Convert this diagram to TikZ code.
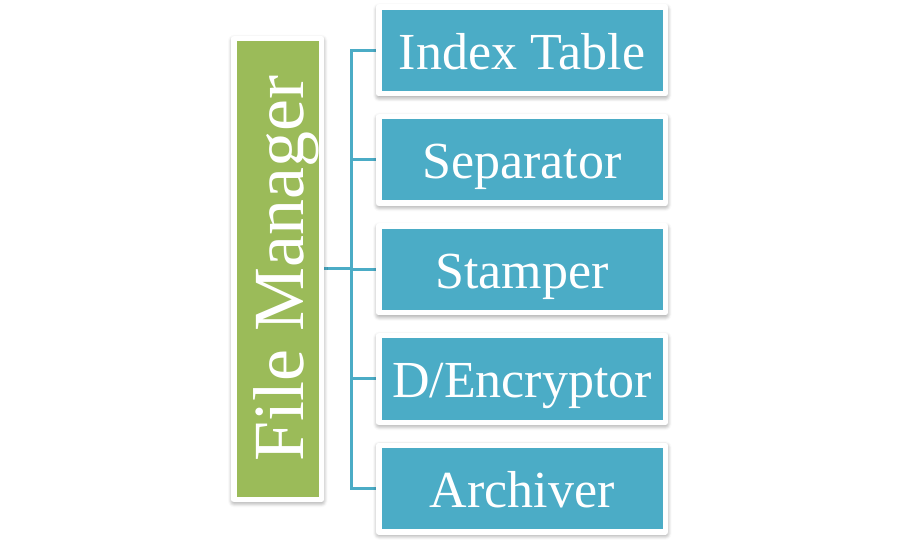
\documentclass[tikz,border=0pt]{standalone}
\usepackage{fontspec}
\usepackage{graphicx}
\setmainfont{Liberation Serif}
\usetikzlibrary{shadows.blur,backgrounds}
\definecolor{boxblue}{HTML}{4BACC6}
\definecolor{boxgreen}{HTML}{9BBB59}
\tikzset{
  framebox/.style={draw=white, line width=5.5pt, line join=round, inner sep=0pt,
    blur shadow={shadow xshift=0.3pt, shadow yshift=-2pt, shadow blur radius=6pt, shadow blur steps=8, shadow opacity=60}},
  itembox/.style={framebox, fill=boxblue, minimum width=286.5pt, minimum height=86.5pt,
    text=white, font=\fontsize{52}{60}\selectfont, text height=38pt, text depth=0pt},
  mainbox/.style={framebox, fill=boxgreen, minimum width=87.5pt, minimum height=460.5pt,
    text=white, font=\fontsize{72}{80}\selectfont},
  conn/.style={draw=boxblue, line width=3pt}
}
\begin{document}
\begin{tikzpicture}[x=1pt,y=-1pt]
\useasboundingbox (0,0) rectangle (900,545);
\node[mainbox] (fm) at (277.5,269) {\rotatebox{90}{\smash{File Manager}\rule{0pt}{51pt}}};
\node[itembox] (b1) at (522,50.5) {Index Table};
\node[itembox] (b2) at (522,160) {Separator};
\node[itembox] (b3) at (522,269.5) {Stamper};
\node[itembox] (b4) at (522,379) {D/Encryptor};
\node[itembox] (b5) at (522,488.5) {Archiver};
\coordinate (j) at (351,269);
\begin{scope}[on background layer]
\draw[conn] (fm.east) -- (j);
\foreach \i in {1,...,5} \draw[conn] (b\i.west) -| (j);
\end{scope}
\end{tikzpicture}
\end{document}
